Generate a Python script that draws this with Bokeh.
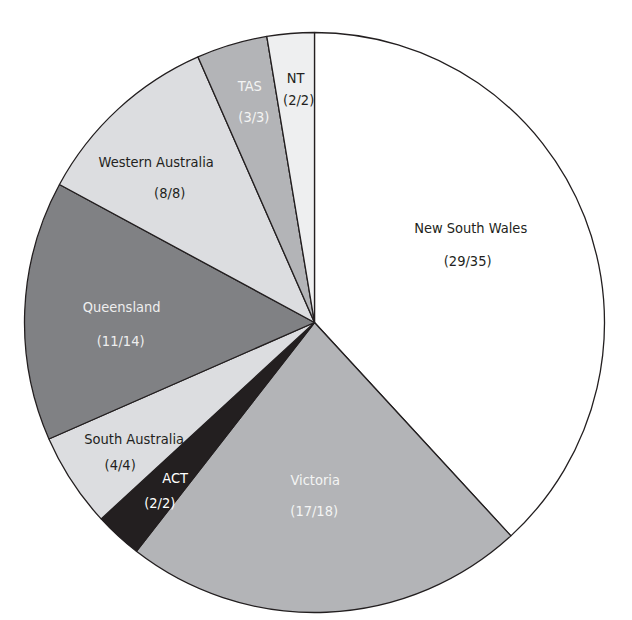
import math
from bokeh.plotting import figure
from bokeh.models import Range1d, ColumnDataSource
from bokeh.core.properties import value
from bokeh.embed import file_html
from bokeh.resources import INLINE

# ---- data (clockwise from 12 o'clock) ----
states = ["New South Wales", "Victoria", "ACT", "South Australia",
          "Queensland", "Western Australia", "TAS", "NT"]
participated = [29, 17, 2, 4, 11, 8, 3, 2]
invited = [35, 18, 2, 4, 14, 8, 3, 2]

# ---- styles / layout ----
fills = ["#ffffff", "#b3b4b7", "#231f20", "#dcdde0",
         "#808184", "#dcdde0", "#b3b4b7", "#eeeff0"]
text_cols = ["#231f20", "#f4f4f4", "#ffffff", "#231f20",
             "#eeeeee", "#231f20", "#f4f4f4", "#231f20"]
label_r = [173, 173.5, 223, 225, 193.5, 209, 230, 234]
nudge = [(-6.5, -15), (-7, 0), (4, 3.5), (1, 6), (0, 9), (-10, 9), (3, -1), (2, 0)]
line_dx = [1.5, 0.5, 7.75, 7, 0.5, -6.75, -2, -1.5]
line_gap = [33, 31, 25, 26, 34, 31, 31, 22]

W, H = 632, 620
cx, cy_px, R = 314, 322, 290
cy = H - cy_px
FONT = "DejaVu Sans Condensed"

p = figure(width=W, height=H, output_backend="svg", toolbar_location=None,
           x_range=Range1d(0, W), y_range=Range1d(0, H), min_border=0)
p.axis.visible = False
p.grid.visible = False
p.outline_line_color = None
p.background_fill_color = "#ffffff"

total = sum(participated)
cum = 0
starts, ends, mids = [], [], []
for v in participated:
    a0 = math.pi / 2 - cum / total * 2 * math.pi
    cum += v
    a1 = math.pi / 2 - cum / total * 2 * math.pi
    starts.append(a1)
    ends.append(a0)
    mids.append((a0 + a1) / 2)

src = ColumnDataSource(dict(x=[cx] * len(states), y=[cy] * len(states),
                            start=starts, end=ends, fill=fills))
p.wedge(x="x", y="y", radius=R, start_angle="start", end_angle="end",
        fill_color="fill", line_color="#231f20", line_width=1.3, source=src)

lx, ly, lt, lc = [], [], [], []
for i, s in enumerate(states):
    bx = cx + label_r[i] * math.cos(mids[i]) + nudge[i][0]
    by = cy + label_r[i] * math.sin(mids[i]) - nudge[i][1]
    lx += [bx + line_dx[i], bx - line_dx[i]]
    ly += [by + line_gap[i] / 2, by - line_gap[i] / 2]
    lt += [s, "(%d/%d)" % (participated[i], invited[i])]
    lc += [text_cols[i], text_cols[i]]

p.text(x=lx, y=ly, text=lt, text_color=lc, text_align="center",
       text_baseline="middle", text_font=value(FONT), text_font_size="14.5px")

open("out.html", "w").write(file_html(p, INLINE))
